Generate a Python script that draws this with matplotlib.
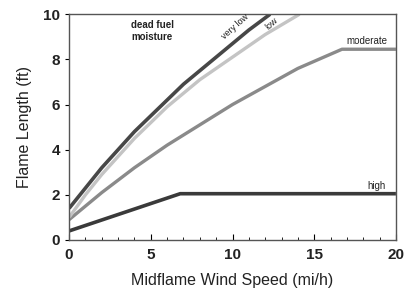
import numpy as np
import matplotlib.pyplot as plt

plt.rcParams['font.family'] = ['Liberation Sans', 'DejaVu Sans']

# valores
viento_muy_bajo = [0, 1, 2, 3, 4, 5, 6, 7, 8, 9, 10, 11, 12.3]
llama_muy_bajo = [1.4, 2.3, 3.2, 4.0, 4.8, 5.5, 6.2, 6.9, 7.5, 8.1, 8.7, 9.3, 10.0]

viento_bajo = [0, 1, 2, 3, 4, 5, 6, 7, 8, 10, 12, 14.1]
llama_bajo = [1.0, 2.0, 2.9, 3.7, 4.5, 5.2, 5.9, 6.5, 7.1, 8.1, 9.1, 10.0]

viento_moderado = [0, 2, 4, 6, 8, 10, 12, 14, 16.7, 20]
llama_moderado = [0.9, 2.1, 3.2, 4.2, 5.1, 6.0, 6.8, 7.6, 8.45, 8.45]

viento_alto = [0, 6.8, 20]
llama_alto = [0.4, 2.05, 2.05]

fig = plt.figure(figsize=(4.04, 3.03), dpi=100)
ax = fig.add_axes([0.171, 0.208, 0.809, 0.745])

ax.plot(viento_alto, llama_alto, color='#3a3a3a', lw=2.6, solid_capstyle='butt')
ax.plot(viento_moderado, llama_moderado, color='#8a8a8a', lw=2.4, solid_capstyle='butt')
ax.plot(viento_bajo, llama_bajo, color='#c4c4c4', lw=2.4, solid_capstyle='butt')
ax.plot(viento_muy_bajo, llama_muy_bajo, color='#474747', lw=2.6, solid_capstyle='butt')

ax.set_xlim(0, 20)
ax.set_ylim(0, 10)
ax.set_xticks([0, 5, 10, 15, 20])
ax.set_xticks(np.arange(0, 21, 1), minor=True)
ax.set_yticks([0, 2, 4, 6, 8, 10])
ax.tick_params(axis='x', which='major', direction='in', length=4, pad=6, labelsize=11)
ax.tick_params(axis='x', which='minor', direction='in', length=2)
ax.tick_params(axis='y', direction='out', length=3, labelsize=11)
for lab in ax.get_xticklabels() + ax.get_yticklabels():
    lab.set_fontweight('bold')
    lab.set_color('#222222')

for s in ax.spines.values():
    s.set_color('#555555')
    s.set_linewidth(1.0)

ax.set_xlabel('Midflame Wind Speed (mi/h)', fontsize=11.5, color='#222222', labelpad=8)
ax.set_ylabel('Flame Length (ft)', fontsize=11.5, color='#222222', labelpad=8)

# etiquetas
ax.text(5.1, 9.25, 'dead fuel\nmoisture', fontsize=7, fontweight='bold',
        ha='center', va='center', linespacing=1.3, color='#222222')
ax.text(10.15, 9.45, 'very low', fontsize=6.5, rotation=42, ha='center', va='center', color='#222222')
ax.text(12.4, 9.6, 'low', fontsize=6.5, rotation=42, ha='center', va='center', color='#222222')
ax.text(18.2, 8.8, 'moderate', fontsize=7, ha='center', va='center', color='#222222')
ax.text(18.8, 2.4, 'high', fontsize=7, ha='center', va='center', color='#222222')

plt.savefig('out.png', dpi=100)
